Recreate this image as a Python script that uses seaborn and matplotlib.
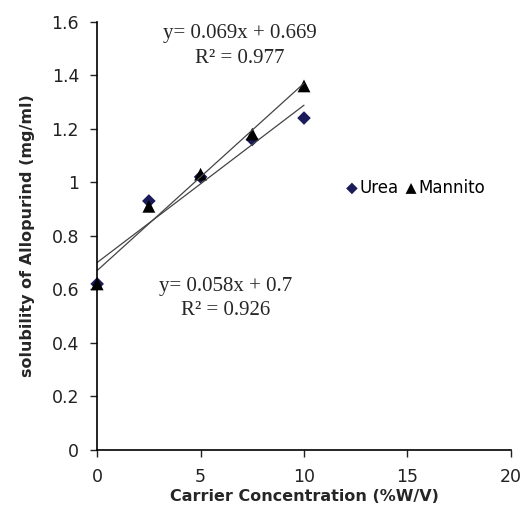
import matplotlib
matplotlib.use("Agg")
import matplotlib.pyplot as plt
import seaborn as sns
import pandas as pd

# carrier concentration (%W/V)
conc = [0, 2.5, 5, 7.5, 10]
urea = [0.62, 0.93, 1.02, 1.16, 1.24]
mannito = [0.62, 0.91, 1.03, 1.18, 1.36]

x_ticks = [0, 5, 10, 15, 20]
y_ticks = [0, 0.2, 0.4, 0.6, 0.8, 1, 1.2, 1.4, 1.6]
y_tick_labels = ["0", "0.2", "0.4", "0.6", "0.8", "1", "1.2", "1.4", "1.6"]

eq_mannito = "y= 0.069x + 0.669\nR\u00b2 = 0.977"
eq_urea = "y= 0.058x + 0.7\nR\u00b2 = 0.926"

df = pd.DataFrame({"conc": conc, "Urea": urea, "Mannito": mannito})

sns.set_style("ticks")
plt.rcParams['font.family'] = ['DejaVu Sans']

fig = plt.figure(figsize=(5.31, 5.17), dpi=100)
ax = fig.add_axes([0.183, 0.130, 0.779, 0.828])

sns.regplot(data=df, x="conc", y="Urea", ax=ax, ci=None, marker="D",
            label="Urea",
            scatter_kws={"s": 48, "color": "#1b1b5a", "edgecolor": "none", "alpha": 1},
            line_kws={"color": "#444444", "linewidth": 0.9})
sns.regplot(data=df, x="conc", y="Mannito", ax=ax, ci=None, marker="^",
            label="Mannito",
            scatter_kws={"s": 85, "color": "black", "edgecolor": "none", "alpha": 1},
            line_kws={"color": "#444444", "linewidth": 0.9})

ax.set_xlim(0, 20)
ax.set_ylim(0, 1.6)
ax.set_xticks(x_ticks)
ax.set_yticks(y_ticks)
ax.set_yticklabels(y_tick_labels)
ax.tick_params(axis="both", direction="out", length=5, width=1, labelsize=12.5,
               colors="#222222", pad=8)
sns.despine(ax=ax)
for s in ["left", "bottom"]:
    ax.spines[s].set_color("black")
    ax.spines[s].set_linewidth(1.2)
for c in ax.collections:
    c.set_clip_on(False)

ax.set_xlabel("Carrier Concentration (%W/V)", fontsize=11.5, fontweight="bold", labelpad=2)
ax.set_ylabel("solubility of Allopurind (mg/ml)", fontsize=11.5, fontweight="bold", labelpad=12)

ax.text(6.9, 1.51, eq_mannito, ha="center", va="center", fontsize=15,
        family=["Liberation Serif", "DejaVu Serif"], linespacing=1.45)
ax.text(6.2, 0.565, eq_urea, ha="center", va="center", fontsize=15,
        family=["Liberation Serif", "DejaVu Serif"], linespacing=1.35)

ax.legend(loc="center", bbox_to_anchor=(0.768, 0.612), ncol=2, frameon=False,
          handletextpad=0.0, columnspacing=0.3, handlelength=0.9, fontsize=12,
          markerscale=0.85, labelcolor="black")

fig.savefig("out.png", dpi=100)
